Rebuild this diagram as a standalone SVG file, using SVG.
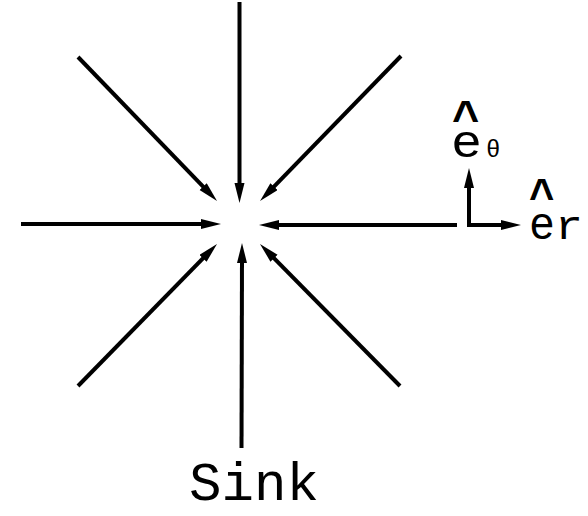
<svg xmlns="http://www.w3.org/2000/svg" width="588" height="516" viewBox="0 0 588 516">
<style>
.ln{stroke:#000;stroke-width:4;fill:none;marker-end:url(#ah)}
.tx{font-family:"Liberation Mono","Courier New",monospace;fill:#000}
.hat{font-weight:bold}
</style>
<defs>
<marker id="ah" markerUnits="userSpaceOnUse" markerWidth="22" markerHeight="12" refX="8" refY="5" orient="auto">
<path d="M0,0 L20,5 L0,10 z" fill="#000"/>
</marker>
</defs>
<rect width="588" height="516" fill="#fff"/>
<g id="connectors">
<line class="ln" x1="239.5" y1="2" x2="239.5" y2="191"/>
<line class="ln" x1="241.5" y1="448" x2="242" y2="255"/>
<line class="ln" x1="21" y1="224" x2="209" y2="224"/>
<line class="ln" x1="457" y1="225" x2="271" y2="225"/>
<line class="ln" x1="78" y1="57" x2="208.7" y2="192.4"/>
<line class="ln" x1="401" y1="56" x2="268.4" y2="192.4"/>
<line class="ln" x1="78" y1="386" x2="208.6" y2="252.6"/>
<line class="ln" x1="400" y1="386" x2="268.4" y2="252.5"/>
</g>
<g id="basis">
<line class="ln" x1="469" y1="227" x2="469" y2="180"/>
<line class="ln" x1="467" y1="225" x2="509" y2="225"/>
</g>
<g id="label-etheta">
<text class="tx" font-size="46"><tspan x="451" y="157" textLength="31" lengthAdjust="spacingAndGlyphs">e</tspan><tspan class="hat" x="452" y="134" font-size="48" textLength="28" lengthAdjust="spacingAndGlyphs">^</tspan><tspan x="486" y="157" font-size="24">θ</tspan></text>
</g>
<g id="label-er">
<text class="tx" font-size="46"><tspan x="529" y="239" textLength="26" lengthAdjust="spacingAndGlyphs">e</tspan><tspan class="hat" x="529" y="212" font-size="48" textLength="26" lengthAdjust="spacingAndGlyphs">^</tspan><tspan x="555" y="239" font-size="40" textLength="28" lengthAdjust="spacingAndGlyphs">r</tspan></text>
</g>
<g id="label-sink">
<text class="tx" x="189" y="500" font-size="53" textLength="130" lengthAdjust="spacingAndGlyphs">Sink</text>
</g>
</svg>
